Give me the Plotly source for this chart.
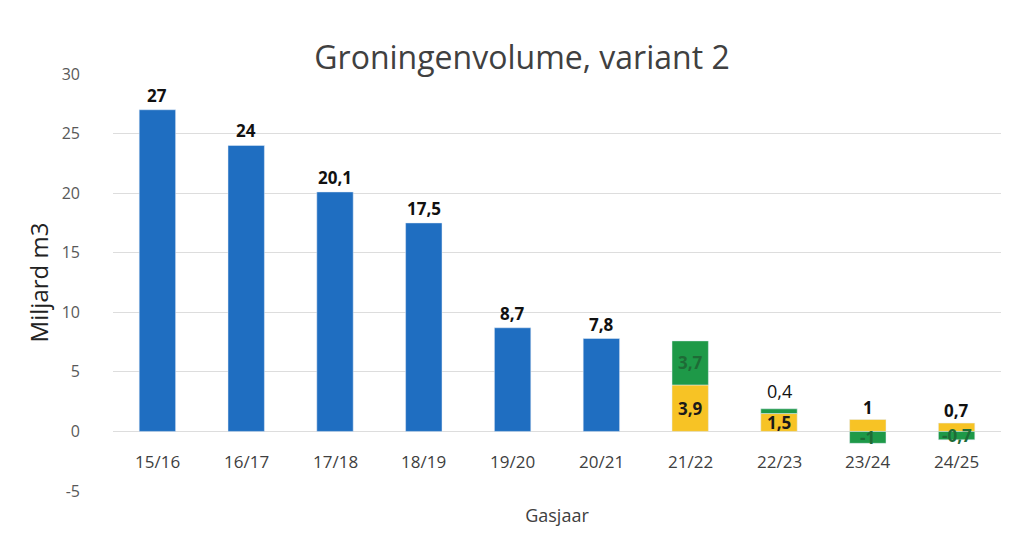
import plotly.graph_objects as go

# ---- data ----
categories = ["15/16", "16/17", "17/18", "18/19", "19/20", "20/21",
              "21/22", "22/23", "23/24", "24/25"]
blue_cats = ["15/16", "16/17", "17/18", "18/19", "19/20", "20/21"]
blue_vals = [27, 24, 20.1, 17.5, 8.7, 7.8]
split_cats = ["21/22", "22/23", "23/24", "24/25"]
yellow_vals = [3.9, 1.5, 1, 0.7]
green_vals = [3.7, 0.4, -1, -0.7]
y_ticks = [-5, 0, 5, 10, 15, 20, 25, 30]

# label placement (inside segment or above the stack)
yellow_label_pos = ["inside", "inside", "outside", "outside"]
green_label_pos = ["inside", "outside", "inside", "inside"]

BLUE = "#1F6EC1"
YELLOW = "#F7C325"
GREEN = "#1E9948"
FONT = "Open Sans"


def fmt(v):
    return f"{v:g}".replace(".", ",")


fig = go.Figure()
fig.add_trace(go.Bar(x=blue_cats, y=blue_vals, marker_color=BLUE,
                     width=0.41, showlegend=False))
fig.add_trace(go.Bar(x=split_cats, y=yellow_vals, marker_color=YELLOW,
                     width=0.41, showlegend=False))
fig.add_trace(go.Bar(x=split_cats, y=green_vals, marker_color=GREEN,
                     width=0.41, showlegend=False))

ann = []
for c, v in zip(blue_cats, blue_vals):
    ann.append(dict(x=c, y=v, text=f"<b>{fmt(v)}</b>", showarrow=False,
                    yanchor="bottom", yshift=1,
                    font=dict(family=FONT, size=17, color="#111111")))

for c, yv, gv, yp, gp in zip(split_cats, yellow_vals, green_vals,
                             yellow_label_pos, green_label_pos):
    top = max(yv, 0) + max(gv, 0)
    if yp == "inside":
        ann.append(dict(x=c, y=yv / 2, text=f"<b>{fmt(yv)}</b>", showarrow=False,
                        yanchor="middle",
                        font=dict(family=FONT, size=17, color="#1a1a1a")))
    else:
        ann.append(dict(x=c, y=top, text=f"<b>{fmt(yv)}</b>", showarrow=False,
                        yanchor="bottom", yshift=-1,
                        font=dict(family=FONT, size=17, color="#111111")))
    gmid = yv + gv / 2 if gv * yv > 0 else gv / 2
    if gp == "inside":
        ann.append(dict(x=c, y=gmid, text=f"<b>{fmt(gv)}</b>", showarrow=False,
                        yanchor="middle",
                        font=dict(family=FONT, size=17, color="#1E6B36")))
    else:
        ann.append(dict(x=c, y=top, text=f"{fmt(gv)}", showarrow=False,
                        yanchor="bottom", yshift=4,
                        font=dict(family=FONT, size=18, color="#111111")))

# category labels sit inside the plot, below the zero line
for c in categories:
    ann.append(dict(x=c, y=-2.5, text=c, showarrow=False, yanchor="middle",
                    font=dict(family=FONT, size=17, color="#404040")))

fig.update_layout(
    width=1022, height=541,
    paper_bgcolor="white", plot_bgcolor="white",
    margin=dict(l=105, r=29, t=66, b=58, autoexpand=False),
    barmode="relative",
    title=dict(text="Groningenvolume, variant 2", x=514 / 1022, xanchor="center",
               y=1 - 50 / 541, yanchor="middle",
               font=dict(family=FONT, size=32, color="#404040")),
    annotations=ann,
    xaxis=dict(categoryorder="array", categoryarray=categories,
               range=[-0.5, len(categories) - 0.5], automargin=False,
               showticklabels=False, showgrid=False, zeroline=False,
               showline=False, ticks="",
               title=dict(text="Gasjaar", standoff=18,
                          font=dict(family=FONT, size=18, color="#404040"))),
    yaxis=dict(range=[-5, 30], tickvals=y_ticks,
               ticktext=[str(t) for t in y_ticks], automargin=False,
               showgrid=True, gridcolor="#dddddd", gridwidth=1,
               zeroline=True, zerolinecolor="#dddddd", zerolinewidth=1,
               ticks="", ticklabelstandoff=32,
               tickfont=dict(family=FONT, size=16, color="#595959"),
               title=dict(text="Miljard m3", standoff=6,
                          font=dict(family=FONT, size=24, color="#222222"))),
)

fig.write_html("out.html")
